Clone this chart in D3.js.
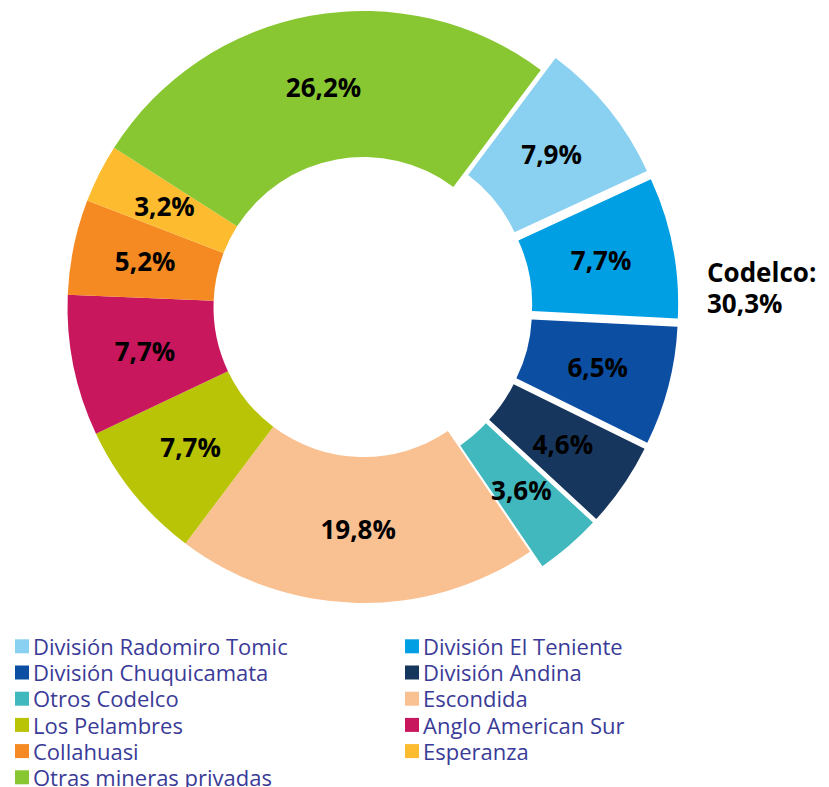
<!DOCTYPE html>
<html>
<head>
<meta charset="utf-8">
<script src="https://cdn.jsdelivr.net/npm/d3@7"></script>
<style>
  html, body { margin: 0; padding: 0; background: #fff; }
  svg { display: block; }
</style>
</head>
<body>
<svg id="chart" width="829" height="787"></svg>
<script>
const categories = [
  "División Radomiro Tomic", "División El Teniente", "División Chuquicamata",
  "División Andina", "Otros Codelco", "Escondida", "Los Pelambres",
  "Anglo American Sur", "Collahuasi", "Esperanza", "Otras mineras privadas"
];
const values = [7.9, 7.7, 6.5, 4.6, 3.6, 19.8, 7.7, 7.7, 5.2, 3.2, 26.2];
const labels = ["7,9%", "7,7%", "6,5%", "4,6%", "3,6%", "19,8%", "7,7%", "7,7%", "5,2%", "3,2%", "26,2%"];
const exploded = [true, true, true, true, true, false, false, false, false, false, false];
const colors = ["#89d0f1", "#009fe3", "#0b4ea2", "#17365d", "#41b8bd", "#f9c192", "#b8c405", "#c8175d", "#f48a21", "#fdbb30", "#88c732"];
const groupLabel = ["Codelco:", "30,3%"];

const svg = d3.select("#chart");
const cx = 363.5, cy = 307, R = 296, r = 150, offset = 19;
const start = 36.8 * Math.PI / 180;

const pie = d3.pie().sort(null).value(d => d).startAngle(start).endAngle(start + 2 * Math.PI);
const arcs = pie(values);
const arc = d3.arc().innerRadius(r).outerRadius(R);

const g = svg.append("g").attr("transform", `translate(${cx},${cy})`);

function shift(d, i) {
  if (!exploded[i]) return [0, 0];
  const a = (d.startAngle + d.endAngle) / 2;
  return [offset * Math.sin(a), -offset * Math.cos(a)];
}

g.selectAll("path.slice")
  .data(arcs)
  .join("path")
  .attr("class", "slice")
  .attr("d", arc)
  .attr("fill", (d, i) => colors[i])
  .attr("transform", (d, i) => { const s = shift(d, i); return `translate(${s[0]},${s[1]})`; });

g.selectAll("text.lbl")
  .data(arcs)
  .join("text")
  .attr("class", "lbl")
  .attr("transform", (d, i) => {
    const c = arc.centroid(d), s = shift(d, i);
    return `translate(${c[0] + s[0]},${c[1] + s[1]})`;
  })
  .attr("text-anchor", "middle")
  .attr("dy", "0.36em")
  .attr("font-family", "'Open Sans', sans-serif")
  .attr("font-weight", "bold")
  .attr("font-size", 26)
  .attr("fill", "#000")
  .text((d, i) => labels[i]);

const gl = svg.append("text")
  .attr("font-family", "'Open Sans', sans-serif")
  .attr("font-weight", "bold")
  .attr("font-size", 26)
  .attr("fill", "#000");
gl.append("tspan").attr("x", 707).attr("y", 282).text(groupLabel[0]);
gl.append("tspan").attr("x", 707).attr("y", 313).text(groupLabel[1]);

// legend
const legend = svg.append("g");
const colX = [15, 405], rowY0 = 639.3, rowH = 26.2;
categories.forEach((c, i) => {
  const col = i % 2, row = Math.floor(i / 2);
  const x = colX[col], y = rowY0 + row * rowH;
  legend.append("rect").attr("x", x).attr("y", y).attr("width", 14).attr("height", 14).attr("fill", colors[i]);
  legend.append("text")
    .attr("x", x + 18).attr("y", y + 15.7)
    .attr("font-family", "'Open Sans', sans-serif")
    .attr("font-size", 22)
    .attr("fill", "#3a3b98")
    .text(c);
});
</script>
</body>
</html>
